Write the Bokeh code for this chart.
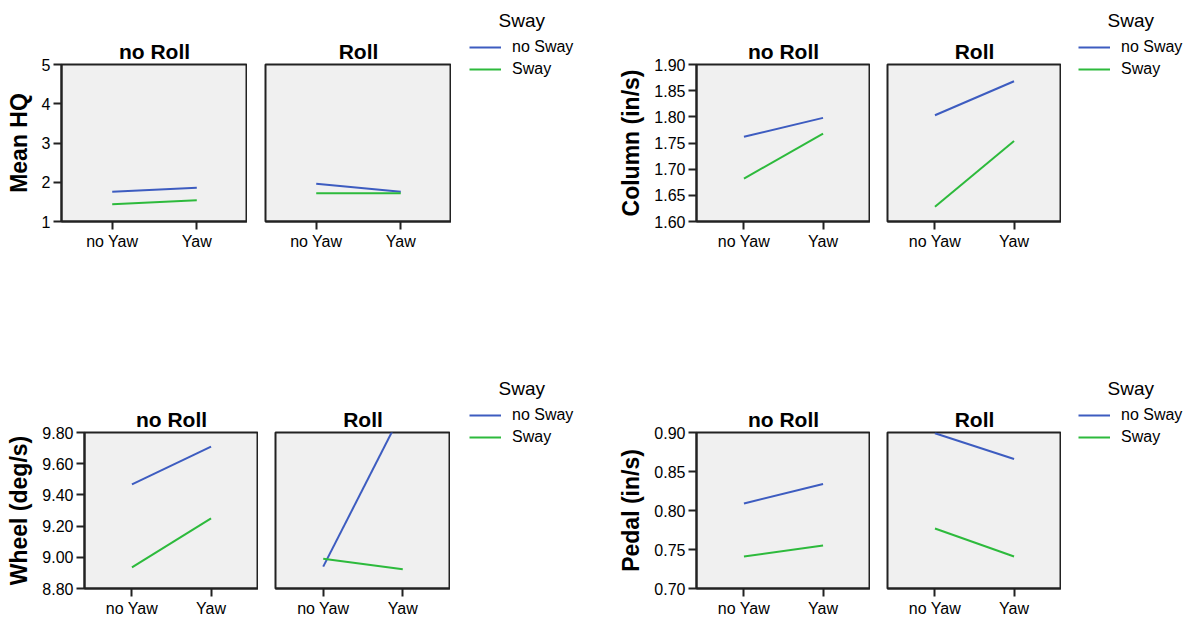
from bokeh.plotting import figure
from bokeh.layouts import row, column
from bokeh.models import (FixedTicker, Legend, LegendItem,
                          NumeralTickFormatter, Range1d)
from bokeh.embed import file_html
from bokeh.resources import INLINE

# ---------------- data ----------------
yaw_levels = ["no Yaw", "Yaw"]
roll_levels = ["no Roll", "Roll"]
sway_levels = ["no Sway", "Sway"]
legend_title = "Sway"

hq_label = "Mean HQ"
hq_ticks = [1, 2, 3, 4, 5]
hq_noroll_nosway = [1.76, 1.86]
hq_noroll_sway = [1.44, 1.54]
hq_roll_nosway = [1.96, 1.76]
hq_roll_sway = [1.72, 1.72]

col_label = "Column (in/s)"
col_ticks = [1.60, 1.65, 1.70, 1.75, 1.80, 1.85, 1.90]
col_noroll_nosway = [1.762, 1.798]
col_noroll_sway = [1.682, 1.768]
col_roll_nosway = [1.803, 1.868]
col_roll_sway = [1.628, 1.754]

wheel_label = "Wheel (deg/s)"
wheel_ticks = [8.80, 9.00, 9.20, 9.40, 9.60, 9.80]
wheel_noroll_nosway = [9.467, 9.71]
wheel_noroll_sway = [8.936, 9.25]
wheel_roll_nosway = [8.94, 9.94]
wheel_roll_sway = [8.99, 8.924]

pedal_label = "Pedal (in/s)"
pedal_ticks = [0.70, 0.75, 0.80, 0.85, 0.90]
pedal_noroll_nosway = [0.809, 0.834]
pedal_noroll_sway = [0.741, 0.755]
pedal_roll_nosway = [0.899, 0.866]
pedal_roll_sway = [0.777, 0.741]

# ---------------- style ----------------
FONT = "Liberation Sans"
BLUE = "#3D5CC0"
GREEN = "#2DBA3C"
DARK = "#222222"
xs = list(range(len(yaw_levels)))


def style_panel(p, has_y, yticks, fmt):
    p.xgrid.visible = False
    p.ygrid.visible = False
    p.background_fill_color = "#F0F0F0"
    p.border_fill_color = "white"
    p.outline_line_color = DARK
    p.outline_line_width = 2
    p.title.align = "center"
    p.title.text_font = FONT
    p.title.text_font_size = "21px"
    p.title.text_font_style = "bold"
    p.title.text_color = "black"
    p.title.standoff = 3
    ax = p.xaxis[0]
    ax.ticker = FixedTicker(ticks=xs, minor_ticks=[])
    ax.major_label_overrides = {i: lab for i, lab in enumerate(yaw_levels)}
    ax.major_tick_out = 8
    ax.major_tick_in = 0
    ax.major_tick_line_width = 2
    ax.major_tick_line_color = DARK
    ax.axis_line_color = DARK
    ax.axis_line_width = 2
    ax.major_label_standoff = 3
    ax.major_label_text_font = FONT
    ax.major_label_text_font_size = "16px"
    ax.major_label_text_color = "black"
    if has_y:
        ay = p.yaxis[0]
        ay.ticker = FixedTicker(ticks=yticks, minor_ticks=[])
        ay.formatter = NumeralTickFormatter(format=fmt)
        ay.major_tick_out = 8
        ay.major_tick_in = 0
        ay.major_tick_line_width = 2
        ay.major_tick_line_color = DARK
        ay.axis_line_color = DARK
        ay.axis_line_width = 2
        ay.major_label_standoff = 3
        ay.major_label_text_font = FONT
        ay.major_label_text_font_size = "16px"
        ay.major_label_text_color = "black"
        ay.axis_label_text_font = FONT
        ay.axis_label_text_font_size = "23px"
        ay.axis_label_text_font_style = "bold"
        ay.axis_label_text_color = "black"
        ay.axis_label_standoff = 7


def legend_fig(series, g):
    p = figure(
        frame_width=g["lw"], frame_height=43,
        min_border_left=g["ll"], min_border_right=0,
        min_border_top=g["lt"], min_border_bottom=g["lb"],
        x_range=Range1d(0, 1), y_range=Range1d(0, 1),
        x_axis_location=None, y_axis_location=None,
        title=legend_title,
        output_backend="svg", toolbar_location=None,
    )
    p.xgrid.visible = False
    p.ygrid.visible = False
    p.outline_line_color = None
    p.background_fill_color = "white"
    p.title.align = "left"
    p.title.offset = 29
    p.title.text_font = FONT
    p.title.text_font_size = "19px"
    p.title.text_font_style = "normal"
    p.title.text_color = "black"
    p.title.standoff = 14
    nosway, sway = series[roll_levels[0]]
    r1 = p.line(xs, nosway, line_color=BLUE, line_width=2, visible=False)
    r2 = p.line(xs, sway, line_color=GREEN, line_width=2, visible=False)
    legend = Legend(
        items=[LegendItem(label=sway_levels[0], renderers=[r1]),
               LegendItem(label=sway_levels[1], renderers=[r2])],
        location="top_left", glyph_width=32, glyph_height=20,
        label_height=20, spacing=2, label_standoff=11,
        label_text_font=FONT, label_text_font_size="16px",
        label_text_color="black", padding=0, margin=0,
        border_line_color=None, background_fill_alpha=0,
    )
    p.add_layout(legend, "center")
    return column(p)


def quadrant(ylabel, yticks, fmt, series, g):
    figs = []
    for k, roll in enumerate(roll_levels):
        first = k == 0
        p = figure(
            frame_width=g["fw"][k], frame_height=g["fh"],
            min_border_left=g["bl"][k], min_border_right=0,
            min_border_top=g["bt"], min_border_bottom=g["bb"],
            x_range=Range1d(-0.6, 1.6),
            y_range=Range1d(yticks[0], yticks[-1]),
            title=roll, y_axis_location="left" if first else None,
            y_axis_label=ylabel if first else None,
            output_backend="svg", toolbar_location=None,
        )
        style_panel(p, first, yticks, fmt)
        nosway, sway = series[roll]
        p.line(xs, nosway, line_color=BLUE, line_width=2)
        p.line(xs, sway, line_color=GREEN, line_width=2)
        figs.append(p)
    figs.append(legend_fig(series, g))
    return figs


top_geom = dict(fh=157, bt=64, bb=77, lt=37, lb=218)
bot_geom = dict(fh=156, bt=134, bb=28, lt=107, lb=168)

tl = quadrant(hq_label, hq_ticks, "0",
              {"no Roll": (hq_noroll_nosway, hq_noroll_sway),
               "Roll": (hq_roll_nosway, hq_roll_sway)},
              dict(fw=[186, 186], bl=[61, 18], ll=18, lw=139, **top_geom))
tr = quadrant(col_label, col_ticks, "0.00",
              {"no Roll": (col_noroll_nosway, col_noroll_sway),
               "Roll": (col_roll_nosway, col_roll_sway)},
              dict(fw=[174, 174], bl=[88, 17], ll=17, lw=108, **top_geom))
bl = quadrant(wheel_label, wheel_ticks, "0.00",
              {"no Roll": (wheel_noroll_nosway, wheel_noroll_sway),
               "Roll": (wheel_roll_nosway, wheel_roll_sway)},
              dict(fw=[174, 175], bl=[84, 17], ll=19, lw=139, **bot_geom))
br = quadrant(pedal_label, pedal_ticks, "0.00",
              {"no Roll": (pedal_noroll_nosway, pedal_noroll_sway),
               "Roll": (pedal_roll_nosway, pedal_roll_sway)},
              dict(fw=[174, 174], bl=[88, 17], ll=17, lw=108, **bot_geom))

layout = column(row(*tl, *tr), row(*bl, *br))
open("out.html", "w").write(file_html(layout, INLINE))
